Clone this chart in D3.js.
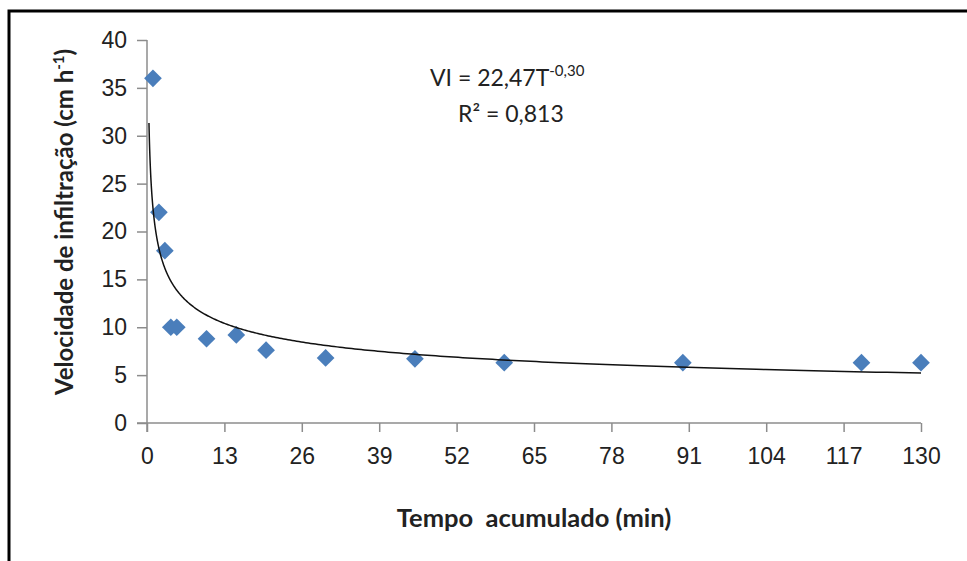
<!DOCTYPE html>
<html>
<head>
<meta charset="utf-8">
<script src="https://cdn.jsdelivr.net/npm/d3@7"></script>
<style>
  body { margin: 0; background: #fff; }
  svg { display: block; font-family: Lato, "Open Sans", sans-serif; }
  .tick text { fill: #222; font-size: 23px; }
  .axis path, .axis line { stroke: #8c8c8c; stroke-width: 1.5px; }
</style>
</head>
<body>
<svg id="chart" width="967" height="561"></svg>
<script>
// infiltration velocity vs accumulated time
var tempo = [1, 2, 3, 4, 5, 10, 15, 20, 30, 45, 60, 90, 120, 130];
var velocidade = [36, 22, 18, 10, 10, 8.8, 9.2, 7.6, 6.8, 6.7, 6.3, 6.3, 6.3, 6.3];
var xTicks = [0, 13, 26, 39, 52, 65, 78, 91, 104, 117, 130];
var yTicks = [0, 5, 10, 15, 20, 25, 30, 35, 40];

// power trendline shown on the chart: VI = 22,47 T^-0,30
var coefA = 22.47, coefB = -0.30;
var trendStart = 0.33, trendEnd = 130;

var svg = d3.select("#chart");

// outer frame (only top and left edges are visible in the crop)
svg.append("rect")
  .attr("x", 9).attr("y", 11)
  .attr("width", 1000).attr("height", 600)
  .attr("fill", "none")
  .attr("stroke", "#000")
  .attr("stroke-width", 3);

var x = d3.scaleLinear().domain([0, 130]).range([147, 921]);
var y = d3.scaleLinear().domain([0, 40]).range([423, 40]);

var xAxis = svg.append("g")
  .attr("class", "axis")
  .attr("transform", "translate(0," + y(0) + ")")
  .call(d3.axisBottom(x).tickValues(xTicks).tickSize(9).tickPadding(16).tickSizeOuter(0));

var yAxis = svg.append("g")
  .attr("class", "axis")
  .attr("transform", "translate(" + x(0) + ",0)")
  .call(d3.axisLeft(y).tickValues(yTicks).tickSize(10).tickPadding(10).tickSizeOuter(0));

// axis lines run on to the origin tick marks
xAxis.select(".domain").attr("d", "M" + (x(0) - 10) + ",0H" + x(130));
yAxis.select(".domain").attr("d", "M0," + y(40) + "V" + (y(0) + 9));

// trendline
var trendT = d3.range(0, 401).map(function (i) {
  return trendStart * Math.pow(trendEnd / trendStart, i / 400);
});
var line = d3.line()
  .x(function (t) { return x(t); })
  .y(function (t) { return y(coefA * Math.pow(t, coefB)); });

// points
var diamond = d3.symbol().type(d3.symbolDiamond2).size(200);
svg.append("g").selectAll("path")
  .data(tempo)
  .join("path")
  .attr("d", diamond)
  .attr("transform", function (t, i) { return "translate(" + x(t) + "," + y(velocidade[i]) + ")"; })
  .attr("fill", "#4a7ebb");

svg.append("path")
  .datum(trendT)
  .attr("d", line)
  .attr("fill", "none")
  .attr("stroke", "#111")
  .attr("stroke-width", 1.5);

// equation
var eq = svg.append("text")
  .attr("x", 430).attr("y", 86)
  .attr("font-size", 23)
  .attr("fill", "#222");
eq.append("tspan").text("VI = 22,47T");
eq.append("tspan").attr("dy", -10).attr("font-size", 15).text("-0,30");

var r2 = svg.append("text")
  .attr("x", 458).attr("y", 122)
  .attr("font-size", 23)
  .attr("fill", "#222");
r2.append("tspan").text("R² = 0,813");

// axis titles
svg.append("text")
  .attr("x", 534).attr("y", 527)
  .attr("text-anchor", "middle")
  .attr("font-size", 25.5)
  .attr("font-weight", "bold")
  .attr("fill", "#222")
  .attr("xml:space", "preserve")
  .text("Tempo  acumulado (min)");

var yl = svg.append("text")
  .attr("transform", "translate(73,222) rotate(-90)")
  .attr("text-anchor", "middle")
  .attr("font-size", 24)
  .attr("font-weight", "bold")
  .attr("fill", "#222");
yl.append("tspan").text("Velocidade de infiltração (cm h");
yl.append("tspan").attr("dy", -9).attr("font-size", 15).text("-1");
yl.append("tspan").attr("dy", 9).text(")");
</script>
</body>
</html>
